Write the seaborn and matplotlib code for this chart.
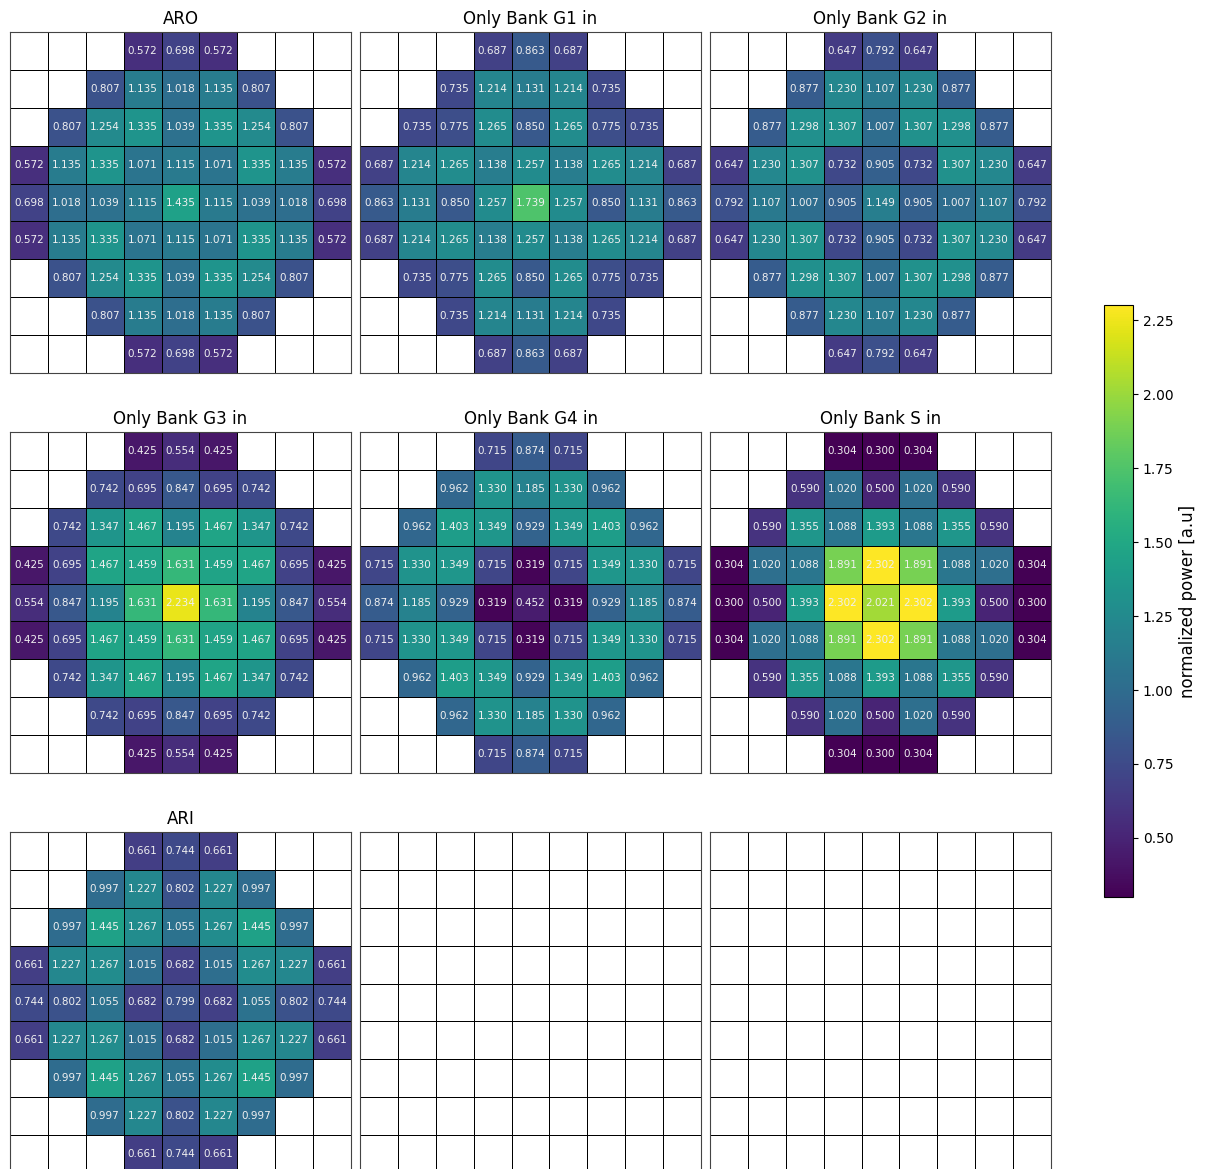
import numpy as np
import matplotlib
matplotlib.use('Agg')
import matplotlib.pyplot as plt
import seaborn as sns

n = np.nan

# 各工况的归一化功率分布 (9x9, 空位为 nan)
aro = [
    [n, n, n, 0.572, 0.698, 0.572, n, n, n],
    [n, n, 0.807, 1.135, 1.018, 1.135, 0.807, n, n],
    [n, 0.807, 1.254, 1.335, 1.039, 1.335, 1.254, 0.807, n],
    [0.572, 1.135, 1.335, 1.071, 1.115, 1.071, 1.335, 1.135, 0.572],
    [0.698, 1.018, 1.039, 1.115, 1.435, 1.115, 1.039, 1.018, 0.698],
    [0.572, 1.135, 1.335, 1.071, 1.115, 1.071, 1.335, 1.135, 0.572],
    [n, 0.807, 1.254, 1.335, 1.039, 1.335, 1.254, 0.807, n],
    [n, n, 0.807, 1.135, 1.018, 1.135, 0.807, n, n],
    [n, n, n, 0.572, 0.698, 0.572, n, n, n],
]
bank_g1 = [
    [n, n, n, 0.687, 0.863, 0.687, n, n, n],
    [n, n, 0.735, 1.214, 1.131, 1.214, 0.735, n, n],
    [n, 0.735, 0.775, 1.265, 0.850, 1.265, 0.775, 0.735, n],
    [0.687, 1.214, 1.265, 1.138, 1.257, 1.138, 1.265, 1.214, 0.687],
    [0.863, 1.131, 0.850, 1.257, 1.739, 1.257, 0.850, 1.131, 0.863],
    [0.687, 1.214, 1.265, 1.138, 1.257, 1.138, 1.265, 1.214, 0.687],
    [n, 0.735, 0.775, 1.265, 0.850, 1.265, 0.775, 0.735, n],
    [n, n, 0.735, 1.214, 1.131, 1.214, 0.735, n, n],
    [n, n, n, 0.687, 0.863, 0.687, n, n, n],
]
bank_g2 = [
    [n, n, n, 0.647, 0.792, 0.647, n, n, n],
    [n, n, 0.877, 1.230, 1.107, 1.230, 0.877, n, n],
    [n, 0.877, 1.298, 1.307, 1.007, 1.307, 1.298, 0.877, n],
    [0.647, 1.230, 1.307, 0.732, 0.905, 0.732, 1.307, 1.230, 0.647],
    [0.792, 1.107, 1.007, 0.905, 1.149, 0.905, 1.007, 1.107, 0.792],
    [0.647, 1.230, 1.307, 0.732, 0.905, 0.732, 1.307, 1.230, 0.647],
    [n, 0.877, 1.298, 1.307, 1.007, 1.307, 1.298, 0.877, n],
    [n, n, 0.877, 1.230, 1.107, 1.230, 0.877, n, n],
    [n, n, n, 0.647, 0.792, 0.647, n, n, n],
]
bank_g3 = [
    [n, n, n, 0.425, 0.554, 0.425, n, n, n],
    [n, n, 0.742, 0.695, 0.847, 0.695, 0.742, n, n],
    [n, 0.742, 1.347, 1.467, 1.195, 1.467, 1.347, 0.742, n],
    [0.425, 0.695, 1.467, 1.459, 1.631, 1.459, 1.467, 0.695, 0.425],
    [0.554, 0.847, 1.195, 1.631, 2.234, 1.631, 1.195, 0.847, 0.554],
    [0.425, 0.695, 1.467, 1.459, 1.631, 1.459, 1.467, 0.695, 0.425],
    [n, 0.742, 1.347, 1.467, 1.195, 1.467, 1.347, 0.742, n],
    [n, n, 0.742, 0.695, 0.847, 0.695, 0.742, n, n],
    [n, n, n, 0.425, 0.554, 0.425, n, n, n],
]
bank_g4 = [
    [n, n, n, 0.715, 0.874, 0.715, n, n, n],
    [n, n, 0.962, 1.330, 1.185, 1.330, 0.962, n, n],
    [n, 0.962, 1.403, 1.349, 0.929, 1.349, 1.403, 0.962, n],
    [0.715, 1.330, 1.349, 0.715, 0.319, 0.715, 1.349, 1.330, 0.715],
    [0.874, 1.185, 0.929, 0.319, 0.452, 0.319, 0.929, 1.185, 0.874],
    [0.715, 1.330, 1.349, 0.715, 0.319, 0.715, 1.349, 1.330, 0.715],
    [n, 0.962, 1.403, 1.349, 0.929, 1.349, 1.403, 0.962, n],
    [n, n, 0.962, 1.330, 1.185, 1.330, 0.962, n, n],
    [n, n, n, 0.715, 0.874, 0.715, n, n, n],
]
bank_s = [
    [n, n, n, 0.304, 0.300, 0.304, n, n, n],
    [n, n, 0.590, 1.020, 0.500, 1.020, 0.590, n, n],
    [n, 0.590, 1.355, 1.088, 1.393, 1.088, 1.355, 0.590, n],
    [0.304, 1.020, 1.088, 1.891, 2.302, 1.891, 1.088, 1.020, 0.304],
    [0.300, 0.500, 1.393, 2.302, 2.021, 2.302, 1.393, 0.500, 0.300],
    [0.304, 1.020, 1.088, 1.891, 2.302, 1.891, 1.088, 1.020, 0.304],
    [n, 0.590, 1.355, 1.088, 1.393, 1.088, 1.355, 0.590, n],
    [n, n, 0.590, 1.020, 0.500, 1.020, 0.590, n, n],
    [n, n, n, 0.304, 0.300, 0.304, n, n, n],
]
ari = [
    [n, n, n, 0.661, 0.744, 0.661, n, n, n],
    [n, n, 0.997, 1.227, 0.802, 1.227, 0.997, n, n],
    [n, 0.997, 1.445, 1.267, 1.055, 1.267, 1.445, 0.997, n],
    [0.661, 1.227, 1.267, 1.015, 0.682, 1.015, 1.267, 1.227, 0.661],
    [0.744, 0.802, 1.055, 0.682, 0.799, 0.682, 1.055, 0.802, 0.744],
    [0.661, 1.227, 1.267, 1.015, 0.682, 1.015, 1.267, 1.227, 0.661],
    [n, 0.997, 1.445, 1.267, 1.055, 1.267, 1.445, 0.997, n],
    [n, n, 0.997, 1.227, 0.802, 1.227, 0.997, n, n],
    [n, n, n, 0.661, 0.744, 0.661, n, n, n],
]

titles = ['ARO', 'Only Bank G1 in', 'Only Bank G2 in',
          'Only Bank G3 in', 'Only Bank G4 in', 'Only Bank S in',
          'ARI', '', '']
maps = [aro, bank_g1, bank_g2, bank_g3, bank_g4, bank_s, ari, None, None]

all_vals = np.array([m for m in maps if m is not None], dtype=float)
vmin = np.nanmin(all_vals)
vmax = np.nanmax(all_vals)

W, H = 1210, 1169
fig = plt.figure(figsize=(W / 100, H / 100), dpi=100)

lefts = [10, 360, 710]
tops = [32, 432, 832]
size = 341

mesh = None
for i, (m, t) in enumerate(zip(maps, titles)):
    r, c = divmod(i, 3)
    ax = fig.add_axes([lefts[c] / W, 1 - (tops[r] + size) / H, size / W, size / H])
    if m is None:
        data = np.full((9, 9), np.nan)
        sns.heatmap(data, ax=ax, cmap='viridis', vmin=vmin, vmax=vmax, cbar=False,
                    linewidths=0.6, linecolor='black',
                    xticklabels=False, yticklabels=False)
    else:
        data = np.array(m, dtype=float)
        sns.heatmap(data, ax=ax, cmap='viridis', vmin=vmin, vmax=vmax, cbar=False,
                    annot=True, fmt='.3f',
                    annot_kws={'size': 7.5, 'color': '#f0f0f0'},
                    linewidths=0.6, linecolor='black',
                    xticklabels=False, yticklabels=False)
        mesh = ax.collections[0]
    # 外框
    for sp in ax.spines.values():
        sp.set_visible(True)
        sp.set_color('#444444')
        sp.set_linewidth(0.8)
    ax.set_title(t, fontsize=12)

cax = fig.add_axes([1104 / W, 1 - 897 / H, 29 / W, 592 / H])
cb = fig.colorbar(mesh, cax=cax)
cb.set_label('normalized power [a.u]', fontsize=12)
cb.ax.tick_params(labelsize=10)

fig.savefig('out.png', dpi=100)
